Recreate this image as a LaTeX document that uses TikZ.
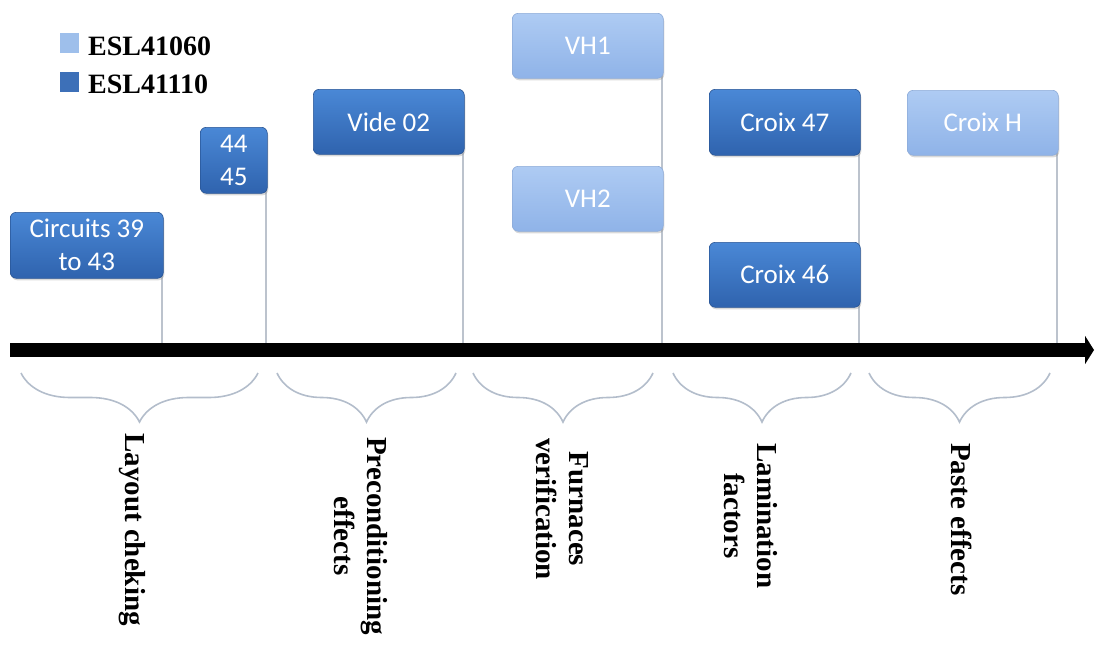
\documentclass[tikz,border=0pt]{standalone}
\usepackage{fontspec}
\setmainfont{Liberation Serif}
\newfontfamily\boxfont{Carlito}
\usetikzlibrary{shadows,backgrounds,decorations.pathreplacing,arrows.meta}
\definecolor{darkA}{HTML}{4A88D6}
\definecolor{darkB}{HTML}{2F63AE}
\definecolor{lightA}{HTML}{AECBF3}
\definecolor{lightB}{HTML}{8FB3E8}
\definecolor{linegray}{HTML}{BCC3CD}
\definecolor{bracegray}{HTML}{B3BDCB}
\definecolor{legdark}{HTML}{3D70B8}
\definecolor{leglight}{HTML}{9EBFEB}
\begin{document}
\begin{tikzpicture}[x=1pt,y=-1pt,
 box/.style={anchor=north west, rounded corners=6pt, inner sep=0pt, align=center, text=white,
   font=\boxfont\fontsize{27}{33}\selectfont,
   drop shadow={opacity=0.3, shadow xshift=1pt, shadow yshift=-2pt}},
 darkbox/.style={box, top color=darkA, bottom color=darkB, draw=darkB!85!black, line width=0.6pt},
 lightbox/.style={box, top color=lightA, bottom color=lightB, draw=lightB!85!gray, line width=0.6pt},
 conn/.style={draw=linegray, line width=1.8pt},
 phase/.style={anchor=west, rotate=-90, inner sep=0pt, align=center, font=\bfseries\fontsize{29}{33}\selectfont},
 bracket/.style={draw=bracegray, line width=1.6pt, decorate, decoration={brace, mirror, amplitude=49pt}},
 legsq/.style={anchor=north west, minimum width=19pt, minimum height=20pt, inner sep=0pt},
 legtxt/.style={anchor=base west, inner sep=0pt, font=\bfseries\fontsize{28}{30}\selectfont}]

\useasboundingbox (0,0) rectangle (1095,645);

% legend
\node[legsq, fill=leglight] (sq1) at (60,33) {};
\node[legsq, fill=legdark] (sq2) at (60,72) {};
\node[legtxt] (t1) at (88,55) {ESL41060};
\node[legtxt] (t2) at (88,93) {ESL41110};

% boxes
\node[darkbox, minimum width=153pt, minimum height=66pt] (c1) at (10,212) {Circuits 39\\to 43};
\node[darkbox, minimum width=67pt, minimum height=66pt] (c2) at (200,127) {44\\45};
\node[darkbox, minimum width=151pt, minimum height=65pt] (v02) at (313,89) {Vide 02};
\node[lightbox, minimum width=151pt, minimum height=65pt] (vh1) at (512,13) {VH1};
\node[lightbox, minimum width=151pt, minimum height=65pt] (vh2) at (512,166) {VH2};
\node[darkbox, minimum width=151pt, minimum height=66pt] (cx47) at (709,89) {Croix 47};
\node[darkbox, minimum width=151pt, minimum height=65pt] (cx46) at (709,242) {Croix 46};
\node[lightbox, minimum width=151pt, minimum height=65pt] (cxh) at (907,90) {Croix H};

% axis
\coordinate (axL) at (10,350);
\coordinate (axR) at (1094,350);

% connectors
\coordinate (p1) at ([xshift=-1.5pt]c1.east);
\coordinate (p2) at ([xshift=-1.5pt]c2.east);
\coordinate (p3) at ([xshift=-1.5pt]v02.east);
\coordinate (p4) at ([xshift=-1.5pt]vh1.east);
\coordinate (p5) at ([xshift=-1.5pt]cx47.east);
\coordinate (p6) at ([xshift=-1.5pt]cxh.east);
\begin{scope}[on background layer]
\foreach \p in {p1,p2,p3,p4,p5,p6}
  \draw[conn] (\p) -- (\p |- axL);
\end{scope}

\draw[line width=14pt, -{Triangle[length=9pt,width=28pt]}] (axL) -- (axR);

% braces
\draw[bracket] (21,373) -- (258,373);
\draw[bracket] (277,373) -- (456,373);
\draw[bracket] (473,373) -- (653,373);
\draw[bracket] (673,373) -- (851,373);
\draw[bracket] (869,373) -- (1050,373);

% phase labels
\node[phase] (l1) at (132,433) {Layout cheking};
\node[phase] (l2) at (361,437) {Preconditioning\\effects};
\node[phase] (l3) at (562,438) {Furnaces\\verification};
\node[phase] (l4) at (751,443) {Lamination\\factors};
\node[phase] (l5) at (962,443) {Paste effects};
\end{tikzpicture}
\end{document}
